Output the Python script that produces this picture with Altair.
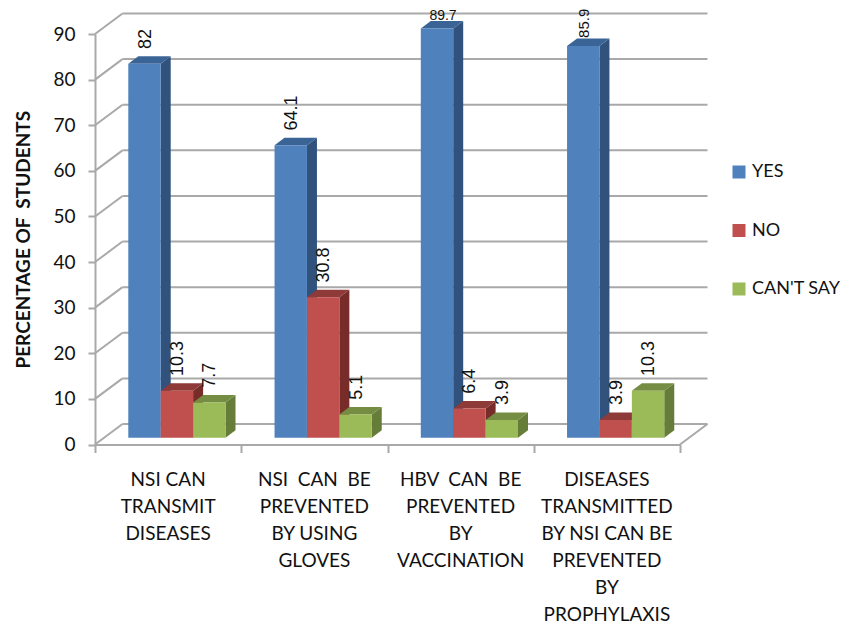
import altair as alt
import pandas as pd

NB = "\u00a0"
categories = [
    "NSI CAN\nTRANSMIT\nDISEASES",
    f"NSI {NB}CAN {NB}BE\nPREVENTED\nBY USING\nGLOVES",
    f"HBV {NB}CAN {NB}BE\nPREVENTED\nBY\nVACCINATION",
    "DISEASES\nTRANSMITTED\nBY NSI CAN BE\nPREVENTED\nBY\nPROPHYLAXIS",
]
series_names = ["YES", "NO", "CAN'T SAY"]
yes_values = [82, 64.1, 89.7, 85.9]
no_values = [10.3, 30.8, 6.4, 3.9]
cant_say_values = [7.7, 5.1, 3.9, 10.3]
y_ticks = [0, 10, 20, 30, 40, 50, 60, 70, 80, 90]
front_colors = ["#4F81BD", "#C0504D", "#9BBB59"]
side_colors = ["#31527C", "#772C2A", "#667D3A"]
top_colors = ["#3B6496", "#8E3A38", "#758D43"]

FONT = "Lato"
GRID = "#A9A9A9"
W, H = 585, 410.5
PXX = W / 4
PXY = H / 90
OFF = 33.3 / PXX
BW = 32.4 / PXX
BASE = 6.8 / PXY
DX = 10 / PXX
DY = 7.5 / PXY
WALL_X = 27.5 / PXX
WALL_Y = 20.5 / PXY

all_values = [yes_values, no_values, cant_say_values]
fronts, sides, tops, labels, flat_labels = [], [], [], [], []
for s, name in enumerate(series_names):
    for i, v in enumerate(all_values[s]):
        x0 = i + OFF + s * BW
        x1 = x0 + BW
        key = f"{i}-{s}"
        fronts.append(dict(series=name, x=x0, x2=x1, y=BASE, y2=BASE + v))
        sides.append(dict(k=key, c=side_colors[s], x=x1, y=BASE + v, y2=BASE))
        sides.append(dict(k=key, c=side_colors[s], x=x1 + DX, y=BASE + v + DY, y2=BASE + DY))
        tops.append(dict(k=key, c=top_colors[s], y=BASE + v, x=x0, x2=x1))
        tops.append(dict(k=key, c=top_colors[s], y=BASE + v + DY, x=x0 + DX, x2=x1 + DX))
        xc = x0 + BW / 2 + 1 / PXX
        if v > 88:
            # no room above this bar for an upright label inside the page
            flat_labels.append(dict(x=xc + DX / 2, y=BASE + v + DY + 0.2, t=str(v)))
        elif v > 85:
            labels.append(dict(x=xc, y=BASE + v + DY + 0.1, t=str(v), f=15))
        else:
            labels.append(dict(x=xc, y=BASE + v + DY + 1.6, t=str(v), f=18))

grid = pd.DataFrame([dict(x=WALL_X, x2=4 + WALL_X, y=v + WALL_Y) for v in y_ticks])
slants = pd.DataFrame(
    [dict(x=0, x2=WALL_X, y=v, y2=v + WALL_Y) for v in y_ticks]
    + [dict(x=4, x2=4 + WALL_X, y=0, y2=WALL_Y)]
)
cats = pd.DataFrame([dict(x=i + 0.5, t=c) for i, c in enumerate(categories)])

xs = alt.Scale(domain=[0, 4], nice=False, zero=False)
ys = alt.Scale(domain=[0, 90], nice=False)
X = alt.X("x:Q", scale=xs, title=None,
          axis=alt.Axis(values=[0, 1, 2, 3, 4], labels=False, tickSize=8, tickWidth=2,
                        tickColor=GRID, domainColor=GRID, domainWidth=2, grid=False))
Y = alt.Y("y:Q", scale=ys, title=f"PERCENTAGE OF {NB}STUDENTS",
          axis=alt.Axis(values=y_ticks, tickSize=7, tickWidth=2, tickColor=GRID,
                        domainColor=GRID, domainWidth=2, grid=False, labelFont=FONT,
                        labelFontSize=19, labelColor="#111", labelPadding=13,
                        titleFont=FONT, titleFontSize=19, titleFontWeight="bold",
                        titleColor="#111", titlePadding=19))

grid_layer = alt.Chart(grid).mark_rule(color=GRID, strokeWidth=2).encode(x=X, x2="x2:Q", y=Y)
slant_layer = alt.Chart(slants).mark_rule(color=GRID, strokeWidth=2).encode(
    x=X, x2="x2:Q", y=Y, y2="y2:Q")
side_layer = alt.Chart(pd.DataFrame(sides)).mark_area().encode(
    x=X, y=Y, y2="y2:Q", detail="k:N", color=alt.Color("c:N", scale=None))
top_layer = alt.Chart(pd.DataFrame(tops)).mark_area(orient="horizontal").encode(
    y=Y, x=X, x2="x2:Q", detail="k:N", color=alt.Color("c:N", scale=None))
front_layer = alt.Chart(pd.DataFrame(fronts)).mark_rect().encode(
    x=X, x2="x2:Q", y=Y, y2="y2:Q",
    color=alt.Color("series:N", scale=alt.Scale(domain=series_names, range=front_colors),
                    legend=alt.Legend(title=None, orient="none", legendX=635, legendY=129,
                                      symbolType="square", symbolSize=169, symbolStrokeWidth=0,
                                      labelFont=FONT, labelFontSize=18, labelColor="#111",
                                      labelLimit=200, rowPadding=40.5, padding=0,
                                      labelOffset=4)))
label_layer = alt.Chart(pd.DataFrame(labels)).mark_text(
    angle=270, align="left", baseline="middle", font="Liberation Sans", color="#111"
).encode(x=X, y=Y, text="t:N", size=alt.Size("f:Q", scale=None))
flat_label_layer = alt.Chart(pd.DataFrame(flat_labels)).mark_text(
    align="center", baseline="alphabetic", font="Liberation Sans", fontSize=14, color="#111"
).encode(x=X, y=Y, text="t:N")
cat_layer = alt.Chart(cats).mark_text(
    align="center", baseline="top", lineBreak="\n", lineHeight=27, font=FONT, fontSize=19,
    color="#111").encode(x=X, y=alt.value(437), text="t:N")

chart = alt.layer(
    grid_layer, slant_layer, side_layer, top_layer, front_layer,
    label_layer, flat_label_layer, cat_layer
).resolve_scale(color="independent").properties(
    width=W, height=H, background="white",
    padding={"left": 87, "top": 26, "right": 162, "bottom": 179.5},
    autosize=alt.AutoSizeParams(type="none"),
).configure_view(stroke=None)

chart.save("out.html", embed_options={"renderer": "svg", "actions": False})
